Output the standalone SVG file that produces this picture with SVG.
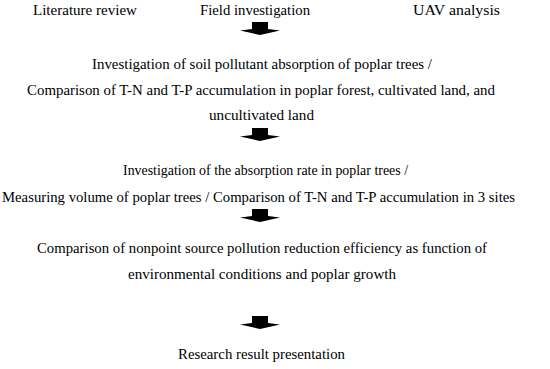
<svg xmlns="http://www.w3.org/2000/svg" xmlns:xlink="http://www.w3.org/1999/xlink" width="550" height="369" viewBox="0 0 550 369">
<style>
text{font-family:"Liberation Serif","Times New Roman",serif;font-size:15px;fill:#000;}
.c{text-anchor:middle;}
</style>
<defs>
<polygon id="arr" points="-8,0 8,0 8,7 20,8.5 0,13 -20,8.5 -8,7" fill="#000"/>
</defs>
<rect width="550" height="369" fill="#fff"/>
<g id="top">
<text x="33" y="15" textLength="104" lengthAdjust="spacingAndGlyphs">Literature review</text>
<text x="200" y="15" textLength="110" lengthAdjust="spacingAndGlyphs">Field investigation</text>
<text x="413" y="15" textLength="87" lengthAdjust="spacingAndGlyphs">UAV analysis</text>
</g>
<g id="step1">
<text class="c" x="262" y="69" textLength="340" lengthAdjust="spacingAndGlyphs">Investigation of soil pollutant absorption of poplar trees /</text>
<text class="c" x="261" y="95" textLength="468" lengthAdjust="spacingAndGlyphs">Comparison of T-N and T-P accumulation in poplar forest, cultivated land, and</text>
<text class="c" x="261.5" y="120" textLength="105" lengthAdjust="spacingAndGlyphs">uncultivated land</text>
</g>
<g id="step2">
<text class="c" x="265.5" y="175" textLength="285" lengthAdjust="spacingAndGlyphs">Investigation of the absorption rate in poplar trees /</text>
<text class="c" x="258.5" y="202" textLength="513" lengthAdjust="spacingAndGlyphs">Measuring volume of poplar trees / Comparison of T-N and T-P accumulation in 3 sites</text>
</g>
<g id="step3">
<text class="c" x="262" y="253" textLength="450" lengthAdjust="spacingAndGlyphs">Comparison of nonpoint source pollution reduction efficiency as function of</text>
<text class="c" x="262" y="279" textLength="268" lengthAdjust="spacingAndGlyphs">environmental conditions and poplar growth</text>
</g>
<g id="result">
<text class="c" x="261.5" y="359" textLength="167" lengthAdjust="spacingAndGlyphs">Research result presentation</text>
</g>
<g id="connectors">
<use xlink:href="#arr" x="260" y="22"/>
<use xlink:href="#arr" x="260" y="128"/>
<use xlink:href="#arr" x="260" y="209"/>
<use xlink:href="#arr" x="260" y="316"/>
</g>
</svg>
